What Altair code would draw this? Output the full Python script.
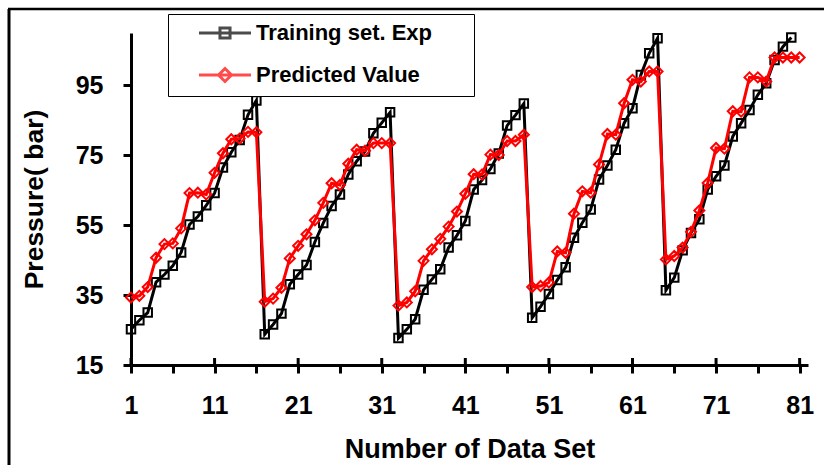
import altair as alt
import pandas as pd

# ---- data ----
training = [25.2, 27.8, 30.0, 38.7, 40.9, 43.4, 47.2, 55.2, 57.5, 60.7, 64.2, 71.5, 75.9, 79.4, 86.6, 90.7,
            23.8, 26.6, 29.7, 38.1, 40.9, 43.6, 50.2, 55.6, 60.5, 63.8, 69.5, 73.3, 76.1, 81.3, 84.3, 87.3,
            22.7, 25.2, 28.1, 36.5, 39.5, 42.4, 48.6, 52.1, 56.2, 65.2, 67.9, 71.1, 75.5, 83.5, 86.5, 89.8,
            28.5, 31.7, 35.3, 39.3, 43.0, 51.4, 55.7, 59.5, 68.1, 72.1, 76.6, 84.2, 88.5, 98.0, 104.2, 108.5,
            36.4, 40.0, 47.8, 52.8, 56.7, 65.2, 69.0, 72.1, 80.4, 84.2, 88.0, 92.3, 95.6, 102.3, 106.1, 108.7]
predicted = [34.3, 34.8, 37.3, 45.7, 49.6, 49.8, 54.1, 64.2, 64.3, 63.8, 70.0, 75.6, 79.6, 79.8, 81.7, 81.6,
             33.1, 34.0, 37.1, 45.5, 49.1, 52.4, 56.4, 61.4, 67.0, 66.5, 72.6, 76.6, 76.3, 78.5, 78.5, 78.5,
             32.0, 32.9, 36.1, 44.8, 48.1, 51.1, 54.6, 58.9, 64.0, 69.6, 69.5, 75.2, 75.1, 79.1, 79.1, 80.9,
             37.3, 37.6, 38.6, 47.5, 47.1, 58.3, 64.7, 64.3, 72.4, 81.1, 80.9, 89.9, 96.6, 96.1, 99.0, 99.0,
             45.2, 46.2, 48.6, 53.1, 59.2, 67.1, 77.1, 76.9, 87.6, 87.5, 97.3, 97.3, 96.1, 103.0, 103.0, 103.0, 103.0]
series_names = ["Training set. Exp", "Predicted Value"]
major_ticks = [1, 11, 21, 31, 41, 51, 61, 71, 81]
minor_ticks = [6, 16, 26, 36, 46, 56, 66, 76]
y_ticks = [15, 35, 55, 75, 95]

df_train = pd.DataFrame({"n": list(range(1, len(training) + 1)), "p": training, "series": series_names[0]})
df_pred = pd.DataFrame({"n": list(range(1, len(predicted) + 1)), "p": predicted, "series": series_names[1]})
df_all = pd.concat([df_train, df_pred], ignore_index=True)
df_major = pd.DataFrame({"t": major_ticks})

W, H = 677, 332
FONT = "Liberation Sans"

xscale = alt.Scale(domain=[1, 82], nice=False, zero=False)
yscale = alt.Scale(domain=[15, 110], nice=False, zero=False)

xaxis = alt.Axis(values=sorted(major_ticks + minor_ticks),
                 labelExpr="datum.value % 10 == 1 ? datum.label : ''",
                 grid=False, domainColor="black", domainWidth=3,
                 tickColor="black", tickWidth=3, tickSize=8,
                 labelFont=FONT, labelFontSize=25, labelFontWeight="bold", labelColor="black",
                 labelPadding=20, labelFlush=False, labelOverlap=False,
                 title="Number of Data Set", titleFont=FONT, titleFontSize=27,
                 titleFontWeight="bold", titleColor="black", titleY=92, titleBaseline="alphabetic")
yaxis = alt.Axis(values=y_ticks, grid=False, domainColor="black", domainWidth=3,
                 tickColor="black", tickWidth=3, tickSize=8,
                 labelFont=FONT, labelFontSize=25, labelFontWeight="bold", labelColor="black",
                 labelPadding=20,
                 title="Pressure( bar)", titleFont=FONT, titleFontSize=26.5, titleFontWeight="bold",
                 titleColor="black", titleAngle=270, titleX=-97, titleY=166, titleBaseline="middle",
                 titleAlign="center")

X = alt.X("n:Q", scale=xscale, axis=xaxis)
Y = alt.Y("p:Q", scale=yscale, axis=yaxis)

black_line = alt.Chart(df_train).mark_line(color="black", strokeWidth=3).encode(x=X, y=Y)
black_pts = alt.Chart(df_train).mark_point(shape="square", filled=False, color="black",
                                           size=72, strokeWidth=2, opacity=1).encode(x=X, y=Y)
red_line = alt.Chart(df_pred).mark_line(color="red", strokeWidth=3).encode(x=X, y=Y)
red_pts = alt.Chart(df_pred).mark_point(shape="diamond", filled=False, color="red",
                                        size=100, strokeWidth=2, opacity=1).encode(x=X, y=Y)

major_up = alt.Chart(df_major).mark_rule(color="black", strokeWidth=3).encode(
    x=alt.X("t:Q", scale=xscale), y=alt.value(H - 7), y2=alt.value(H))

p_sq = "M-2.74,0L2.74,0M-0.53,-0.53L0.53,-0.53L0.53,0.53L-0.53,0.53ZM24.7,0"
p_di = "M-2.74,0L2.74,0M0,-0.68L0.68,0L0,0.68L-0.68,0ZM24.7,0"
leg = alt.Legend(title=None, orient="none", legendX=37, legendY=-19, padding=8,
                 strokeColor="black", fillColor="white",
                 symbolSize=361, symbolStrokeWidth=3, symbolOffset=38,
                 labelOffset=20, rowPadding=17, labelLimit=400,
                 labelFont=FONT, labelFontSize=22, labelFontWeight="bold", labelColor="black")
legend_layer = alt.Chart(df_all).transform_filter("false").mark_point(filled=False).encode(
    x=alt.X("n:Q", scale=xscale), y=alt.Y("p:Q", scale=yscale),
    color=alt.Color("series:N", scale=alt.Scale(domain=series_names, range=["black", "red"]), legend=leg),
    shape=alt.Shape("series:N", scale=alt.Scale(domain=series_names, range=[p_sq, p_di]), legend=leg))

frame_df = pd.DataFrame({"k": [0]})
frame_top = alt.Chart(frame_df).mark_rule(color="black", strokeWidth=2.5).encode(
    x=alt.value(-123), x2=alt.value(700), y=alt.value(-24))
frame_left = alt.Chart(frame_df).mark_rule(color="black", strokeWidth=3).encode(
    x=alt.value(-122), y=alt.value(-24), y2=alt.value(440))

chart = alt.layer(frame_top, frame_left, black_line, black_pts, red_line, red_pts, major_up, legend_layer).properties(
    width=W, height=H,
    autosize=alt.AutoSizeParams(type="none"),
    padding={"left": 131, "top": 33, "right": 16, "bottom": 100},
    background="white",
).configure_view(stroke=None)

chart.save("out.html", embed_options={"renderer": "svg", "actions": False})
